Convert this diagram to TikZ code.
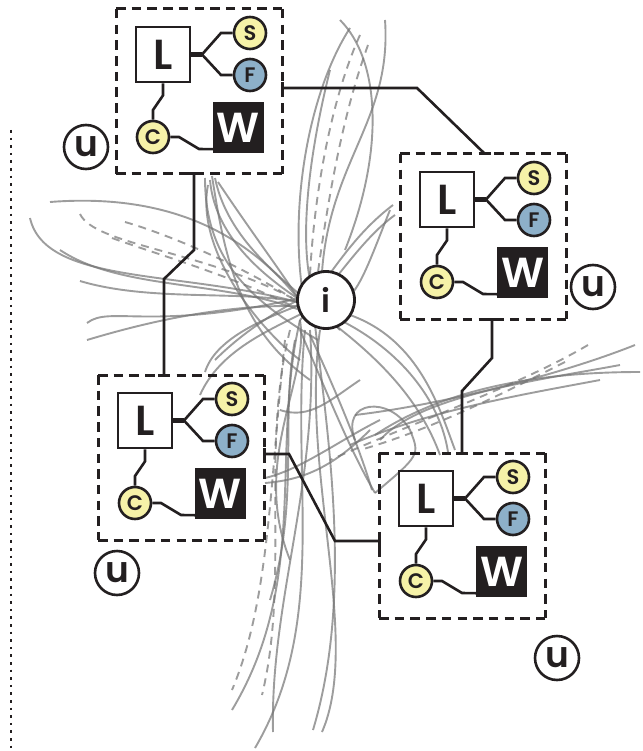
\documentclass[tikz,border=0pt]{standalone}
\usepackage{fontspec}
\setmainfont{Poppins}[BoldFont={Poppins SemiBold}]
\usetikzlibrary{calc}
\definecolor{ink}{HTML}{231F20}
\definecolor{yel}{HTML}{F6F2A8}
\definecolor{blu}{HTML}{8DB0C9}
\tikzset{
  dboxnode/.style={minimum width=166pt, minimum height=165pt, inner sep=0pt, outer sep=0pt},
  dside/.style={draw=ink, line width=3pt, dash pattern=on 9.5pt off 6.2pt},
  lbox/.style={draw=ink, fill=white, line width=2.8pt, minimum width=54pt, minimum height=55pt, inner sep=0pt, font=\bfseries\fontsize{42}{42}\selectfont, text=ink},
  bub/.style={circle, draw=ink, line width=2.6pt, minimum size=32pt, inner sep=0pt, font=\bfseries\fontsize{21}{21}\selectfont, text=ink},
  ybub/.style={bub, fill=yel},
  bbub/.style={bub, fill=blu},
  wbox/.style={fill=ink, text=white, minimum width=51pt, minimum height=51pt, inner sep=0pt, font=\bfseries\fontsize{42}{42}\selectfont},
  ulab/.style={circle, draw=ink, fill=white, line width=2.6pt, minimum size=44pt, inner sep=0pt, font=\bfseries\fontsize{36}{36}\selectfont, text=ink},
  ilab/.style={circle, draw=ink, fill=white, line width=2.8pt, minimum size=57pt, inner sep=0pt, font=\bfseries\fontsize{32}{32}\selectfont, text=ink},
  conn/.style={draw=ink, line width=2.6pt},
  thickconn/.style={draw=ink, line width=4.5pt},
  tickmark/.style={draw=ink, line width=3pt},
  strand/.style={draw=black!55, draw opacity=0.7, line width=1.9pt},
  dstrand/.style={strand, dash pattern=on 8pt off 6pt},
  dotline/.style={draw=ink, line width=2.6pt, dash pattern=on 2.6pt off 5pt}
}
\newcommand{\mymodule}[3]{%
\begin{scope}[shift={(#2,#3)}]
  \node[dboxnode] (#1box) at (83,82.5) {};
  \draw[dside] (#1box.north west) -- (#1box.north east);
  \draw[dside] (#1box.north east) -- (#1box.south east);
  \draw[dside] (#1box.north west) -- (#1box.south west);
  \draw[dside] (#1box.south west) -- (#1box.south east);
  \node[lbox] (#1L) at (47,45.5) {L};
  \node[ybub] (#1S) at (134,24) {S};
  \node[bbub] (#1F) at (134,66) {F};
  \node[ybub] (#1C) at (37,128) {C};
  \node[wbox] (#1W) at (122.5,118.5) {W};
  \coordinate (#1b) at (86,45.5);
  \draw[thickconn] (#1L.east) -- (#1b);
  \draw[conn] (#1b) -- (105,24) -- (#1S.west);
  \draw[conn] (#1b) -- (105,66) -- (#1F.west);
  \draw[conn] (#1L.south) -- ++(0,12) -- (37,101) -- (#1C.north);
  \draw[conn] (#1C.east) -- (63,128) -- (83,140) -- ($(#1W.south west)+(0,-4)$);
\end{scope}}
\begin{document}
\begin{tikzpicture}[x=1pt,y=-1pt]
\useasboundingbox (0,0) rectangle (642,751);

% grey strands
\begin{scope}
  % upper-left fan
  \draw[strand] (50,202) .. controls (140,195) and (230,215) .. (296,296);
  \draw[strand] (30,218) .. controls (45,285) and (180,270) .. (297,302);
  \draw[dstrand] (80,214) .. controls (95,245) and (200,250) .. (292,298);
  \draw[dstrand] (125,222) .. controls (170,235) and (240,265) .. (295,300);
  \draw[dstrand] (112,238) .. controls (150,252) and (230,275) .. (290,305);
  \draw[strand] (80,281) .. controls (150,302) and (240,290) .. (298,302);
  \draw[strand] (87,323) .. controls (110,305) and (150,332) .. (300,298);
  \draw[strand] (87,340) .. controls (160,318) and (230,305) .. (297,306);
  \draw[strand] (60,250) .. controls (120,290) and (220,280) .. (300,310);
  % from below box A
  \draw[strand] (205,178) .. controls (205,260) and (250,300) .. (318,340);
  \draw[strand] (210,180) .. controls (215,240) and (270,280) .. (300,300);
  \draw[strand] (215,178) .. controls (230,250) and (300,290) .. (340,330);
  \draw[strand] (218,182) .. controls (250,230) and (280,270) .. (298,298);
  \draw[strand] (208,185) .. controls (195,250) and (260,330) .. (300,360);
  \draw[strand] (212,176) .. controls (225,260) and (240,330) .. (310,380);
  % lower-left
  \draw[strand] (205,372) .. controls (215,340) and (260,320) .. (300,305);
  \draw[strand] (200,395) .. controls (220,350) and (270,330) .. (305,312);
  \draw[strand] (215,360) .. controls (240,335) and (270,315) .. (298,300);
  % top
  \draw[strand] (350,28) .. controls (310,90) and (290,200) .. (302,288);
  \draw[strand] (385,20) .. controls (392,120) and (330,160) .. (322,272);
  \draw[dstrand] (360,35) .. controls (335,90) and (315,180) .. (310,275);
  \draw[dstrand] (368,45) .. controls (348,100) and (332,170) .. (318,272);
  \draw[strand] (330,70) .. controls (310,150) and (300,230) .. (310,280);
  \draw[strand] (340,20) .. controls (380,60) and (385,150) .. (345,250);
  % upper right
  \draw[strand] (393,205) .. controls (360,230) and (340,260) .. (318,290);
  \draw[strand] (395,215) .. controls (360,240) and (330,290) .. (300,320);
  \draw[strand] (390,210) .. controls (370,260) and (360,290) .. (345,300);
  % right group
  \draw[strand] (635,345) .. controls (560,375) and (440,405) .. (355,415);
  \draw[strand] (640,372) .. controls (550,372) and (450,385) .. (375,435);
  \draw[dstrand] (588,345) .. controls (520,385) and (420,420) .. (330,460);
  \draw[dstrand] (565,362) .. controls (500,395) and (430,430) .. (360,450);
  \draw[strand] (600,380) .. controls (520,395) and (430,410) .. (350,445);
  \draw[strand] (620,365) .. controls (540,380) and (420,395) .. (380,440);
  % i to lower right
  \draw[strand] (340,320) .. controls (400,350) and (440,400) .. (448,452);
  \draw[strand] (335,325) .. controls (380,360) and (420,400) .. (440,455);
  \draw[strand] (350,315) .. controls (420,340) and (440,410) .. (455,450);
  \draw[strand] (355,440) .. controls (340,400) and (390,395) .. (410,430) .. controls (420,455) .. (375,493);
  \draw[strand] (300,330) .. controls (330,400) and (350,450) .. (375,493);
  \draw[strand] (310,335) .. controls (340,400) and (360,450) .. (372,490);
  % near box C right side
  \draw[strand] (265,483) .. controls (300,480) and (330,470) .. (370,430);
  \draw[strand] (265,478) .. controls (300,470) and (340,440) .. (380,420);
  \draw[strand] (280,410) .. controls (310,420) and (330,400) .. (360,380);
  % downward bundle
  \draw[strand] (300,320) .. controls (270,450) and (310,580) .. (232,710);
  \draw[strand] (305,330) .. controls (290,480) and (330,620) .. (255,748);
  \draw[strand] (310,330) .. controls (320,480) and (270,600) .. (273,732);
  \draw[strand] (315,325) .. controls (330,450) and (352,600) .. (313,730);
  \draw[strand] (320,330) .. controls (300,470) and (362,640) .. (322,732);
  \draw[dstrand] (290,330) .. controls (260,450) and (290,580) .. (262,695);
  \draw[dstrand] (285,340) .. controls (270,480) and (270,600) .. (232,690);
  \draw[strand] (300,320) .. controls (310,380) and (250,460) .. (290,560);
  \draw[strand] (295,340) .. controls (280,420) and (300,500) .. (270,600);
\end{scope}

% modules
\mymodule{A}{116}{9}
\mymodule{B}{400}{154}
\mymodule{C}{98}{375}
\mymodule{D}{379}{453}

% u labels
\node[ulab] (uA) at (86,147) {u};
\node[ulab] (uB) at (593,287) {u};
\node[ulab] (uC) at (117,573) {u};
\node[ulab] (uD) at (557,658) {u};

% central i
\node[ilab] (hub) at (326,300) {i};

% ports
\coordinate (pAr) at ($(Abox.north east)+(0,79)$);
\coordinate (pAb) at ($(Abox.south west)+(78,0)$);
\coordinate (pBt) at ($(Bbox.north west)+(85,0)$);
\coordinate (pBb) at ($(Bbox.south west)+(92,0)$);
\coordinate (pCt) at ($(Cbox.north west)+(66,0)$);
\coordinate (pCr) at ($(Cbox.north east)+(0,79)$);
\coordinate (pDt) at ($(Dbox.north west)+(83,0)$);
\coordinate (pDl) at ($(Dbox.north west)+(0,88)$);

% connectors
\draw[conn] (pAr) -- ++(135,0) -- (pBt);
\draw[conn] (pAb) -- ++(0,76) -- ++(-30,29) -- (pCt);
\draw[conn] (pBb) -- ++(0,39) -- ++(-30,33) -- (pDt);
\draw[conn] (pCr) -- ++(25,0) -- ++(46,87) -- (pDl);

% ticks
\foreach \p in {pAr,pCr,pDl} \draw[tickmark] ($(\p)+(0,-6)$) -- ($(\p)+(0,6)$);
\foreach \p in {pAb,pBt,pBb,pCt,pDt} \draw[tickmark] ($(\p)+(-6,0)$) -- ($(\p)+(6,0)$);

% dotted line
\draw[dotline] (11,130) -- (11,751);
\end{tikzpicture}
\end{document}
